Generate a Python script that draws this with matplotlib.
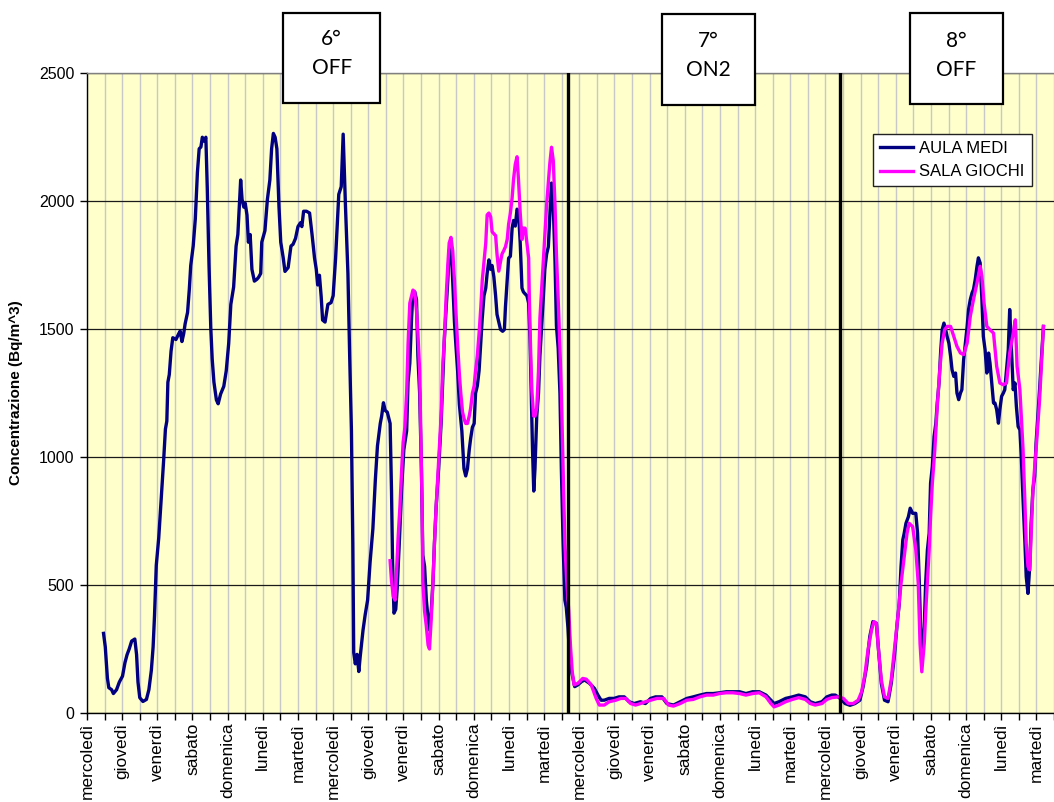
import matplotlib
matplotlib.use('Agg')
import matplotlib.pyplot as plt
from matplotlib.patches import Rectangle
import numpy as np

# ---------------- data ----------------
day_labels = ['mercoledì', 'giovedì', 'venerdì', 'sabato', 'domenica', 'lunedì', 'martedì'] * 4

aula_day = [0.47, 0.52, 0.58, 0.62, 0.70, 0.75, 0.84, 0.92, 1.01, 1.08, 1.14, 1.20, 1.27, 1.36, 1.41,
            1.45, 1.50, 1.59, 1.69, 1.76, 1.83, 1.88, 1.92, 1.97, 2.04, 2.11, 2.18, 2.23, 2.27, 2.30,
            2.34, 2.39, 2.44, 2.53, 2.61, 2.65, 2.70, 2.75, 2.79, 2.86, 2.91, 2.95, 3.02, 3.08, 3.14,
            3.19, 3.24, 3.28, 3.33, 3.38, 3.42, 3.47, 3.52, 3.56, 3.61, 3.68, 3.73, 3.80, 3.89, 3.96,
            4.03, 4.09, 4.17, 4.24, 4.29, 4.33, 4.37, 4.41, 4.46, 4.50, 4.55, 4.59, 4.64, 4.69, 4.76,
            4.83, 4.88, 4.94, 4.97, 5.06, 5.13, 5.20, 5.25, 5.30, 5.35, 5.40, 5.46, 5.51, 5.58, 5.63,
            5.72, 5.80, 5.86, 5.93, 6.00, 6.07, 6.11, 6.16, 6.24, 6.33, 6.40, 6.47, 6.52, 6.56, 6.61,
            6.66, 6.70, 6.77, 6.85, 6.94, 7.00, 7.07, 7.16, 7.23, 7.285, 7.35, 7.42, 7.47, 7.52, 7.56,
            7.585, 7.63, 7.68, 7.73, 7.77, 7.85, 7.91, 7.98, 8.05, 8.13, 8.20, 8.26, 8.34, 8.38, 8.43,
            8.48, 8.54, 8.62, 8.66, 8.69, 8.73, 8.78, 8.82, 8.88, 8.95, 9.01, 9.09, 9.13, 9.18, 9.23,
            9.27, 9.32, 9.37, 9.41, 9.46, 9.51, 9.55, 9.60, 9.65, 9.70, 9.74, 9.79, 9.84, 9.88, 9.93,
            10.00, 10.07, 10.12, 10.16, 10.21, 10.26, 10.30, 10.35, 10.40, 10.45, 10.49, 10.54, 10.59,
            10.66, 10.72, 10.77, 10.82, 10.87, 10.91, 10.96, 11.01, 11.05, 11.10, 11.15, 11.20, 11.24,
            11.29, 11.34, 11.38, 11.43, 11.48, 11.52, 11.57, 11.62, 11.66, 11.71, 11.76, 11.82, 11.87,
            11.90, 11.95, 11.99, 12.04, 12.09, 12.13, 12.18, 12.23, 12.27, 12.32, 12.37, 12.41, 12.46,
            12.51, 12.56, 12.60, 12.63, 12.67, 12.705, 12.74, 12.79, 12.84, 12.88, 12.93, 12.98, 13.02,
            13.07, 13.12, 13.16, 13.21, 13.26, 13.31, 13.35, 13.40, 13.45, 13.49, 13.54, 13.59, 13.63,
            13.68, 13.73, 13.79, 13.87, 13.96, 14.06, 14.15, 14.29, 14.43, 14.53, 14.62, 14.71, 14.85,
            14.99, 15.13, 15.28, 15.42, 15.56, 15.74, 15.88, 16.03, 16.17, 16.35, 16.49, 16.68, 16.87,
            17.06, 17.24, 17.43, 17.62, 17.81, 17.99, 18.18, 18.37, 18.56, 18.74, 18.93, 19.12, 19.31,
            19.45, 19.54, 19.68, 19.87, 20.06, 20.24, 20.43, 20.57, 20.71, 20.90, 21.04, 21.18, 21.28,
            21.42, 21.56, 21.70, 21.84, 21.98, 22.07, 22.17, 22.26, 22.35, 22.45, 22.51, 22.59, 22.68,
            22.78, 22.87, 22.96, 23.04, 23.10, 23.15, 23.20, 23.24, 23.29, 23.36, 23.41, 23.48, 23.57,
            23.62, 23.67, 23.71, 23.76, 23.81, 23.85, 23.90, 23.95, 23.99, 24.04, 24.09, 24.14, 24.18,
            24.23, 24.28, 24.32, 24.37, 24.42, 24.46, 24.51, 24.56, 24.60, 24.65, 24.70, 24.74, 24.79,
            24.84, 24.88, 24.93, 24.98, 25.03, 25.07, 25.12, 25.17, 25.21, 25.26, 25.31, 25.35, 25.40,
            25.45, 25.49, 25.54, 25.59, 25.64, 25.68, 25.73, 25.78, 25.82, 25.87, 25.92, 25.96, 26.01,
            26.06, 26.10, 26.15, 26.20, 26.24, 26.29, 26.34, 26.39, 26.43, 26.48, 26.53, 26.57, 26.62,
            26.67, 26.71, 26.76, 26.81, 26.85, 26.90, 26.95, 26.99, 27.04, 27.09, 27.14, 27.20]
aula_val = [311, 258, 136, 99, 91, 76, 91, 121, 144, 197, 228, 250, 281, 289, 228,
            121, 60, 45, 53, 91, 167, 258, 380, 577, 684, 836, 988, 1109, 1140, 1292,
            1322, 1413, 1466, 1459, 1482, 1492, 1451, 1482, 1520, 1565, 1656, 1748, 1824, 1930, 2112,
            2204, 2211, 2249, 2234, 2249, 2052, 1748, 1505, 1383, 1292, 1223, 1208, 1246, 1276, 1337,
            1444, 1596, 1664, 1824, 1869, 1976, 2082, 2006, 1976, 1991, 1945, 1839, 1869, 1733, 1687,
            1694, 1702, 1717, 1839, 1884, 2006, 2082, 2204, 2264, 2249, 2204, 1976, 1839, 1778, 1725,
            1740, 1824, 1831, 1854, 1900, 1915, 1900, 1960, 1960, 1953, 1869, 1778, 1733, 1672, 1710,
            1626, 1535, 1527, 1596, 1603, 1630, 1777, 2026, 2056, 2261, 1982, 1718, 1395, 1102, 661,
            236, 192, 229, 162, 221, 324, 383, 441, 588, 720, 911, 1043, 1131, 1160, 1212,
            1182, 1175, 1131, 867, 588, 390, 405, 485, 661, 882, 1028, 1102, 1293, 1366, 1542,
            1645, 1645, 1615, 1395, 1249, 955, 617, 573, 441, 368, 324, 397, 515, 661, 808,
            955, 1131, 1307, 1454, 1571, 1689, 1806, 1836, 1689, 1527, 1439, 1337, 1205,
            1102, 955, 926, 955, 1028, 1072, 1116, 1131, 1249, 1278, 1337, 1454, 1542,
            1630, 1660, 1718, 1770, 1733, 1748, 1704, 1630, 1557, 1527, 1498, 1491, 1498,
            1586, 1689, 1777, 1784, 1894, 1924, 1902, 1968, 1960, 1836, 1660, 1645, 1637,
            1630, 1601, 1454, 1278, 1028, 867, 955, 1160, 1249, 1395, 1513, 1630, 1733,
            1792, 1821, 1938, 2070, 1982, 1762, 1513, 1425, 1249, 955, 661, 441, 412,
            330, 207, 155, 103, 110, 122, 129, 116, 96, 70, 50, 50, 57,
            57, 63, 63, 44, 37, 44, 37, 57, 63, 63, 37, 31, 44,
            57, 63, 70, 76, 76, 79, 83, 83, 83, 76, 83, 83, 70,
            50, 37, 44, 57, 63, 70, 63, 44, 37, 44, 63, 70, 70,
            57, 37, 30, 37, 50, 102, 181, 298, 357, 350, 246, 115, 50,
            44, 115, 220, 350, 428, 572, 676, 702, 741, 767, 800, 780, 780,
            702, 506, 311, 246, 337, 506, 637, 702, 898, 963, 1080, 1132, 1211,
            1289, 1419, 1497, 1523, 1497, 1471, 1445, 1393, 1341, 1315, 1328, 1250, 1224,
            1250, 1263, 1380, 1445, 1510, 1576, 1615, 1641, 1654, 1693, 1745, 1778, 1758,
            1615, 1471, 1419, 1328, 1406, 1367, 1289, 1211, 1211, 1185, 1132, 1185, 1237,
            1250, 1263, 1341, 1419, 1576, 1419, 1263, 1289, 1198, 1119, 1106, 1002, 833,
            676, 533, 467, 572, 741, 872, 924, 1054, 1158, 1263, 1380, 1510]

sala_day = [8.62, 8.66, 8.71, 8.76, 8.80, 8.85, 8.90, 8.95, 8.99, 9.04, 9.09, 9.13, 9.18, 9.23, 9.27,
            9.32, 9.37, 9.41, 9.46, 9.49, 9.53, 9.55, 9.60, 9.65, 9.70, 9.74, 9.79, 9.84, 9.88, 9.93,
            10.00, 10.07, 10.12, 10.16, 10.21, 10.26, 10.30, 10.35, 10.40, 10.45, 10.49, 10.54, 10.59,
            10.63, 10.68, 10.73, 10.77, 10.82, 10.87, 10.91, 10.96, 11.01, 11.05, 11.10, 11.15, 11.20,
            11.24, 11.29, 11.34, 11.38, 11.43, 11.48, 11.52, 11.57, 11.62, 11.66, 11.71, 11.76, 11.80,
            11.85, 11.90, 11.95, 11.99, 12.04, 12.09, 12.13, 12.18, 12.23, 12.27, 12.32, 12.37, 12.41,
            12.46, 12.51, 12.56, 12.58, 12.62, 12.65, 12.70, 12.74, 12.79, 12.84, 12.88, 12.93, 12.98,
            13.02, 13.07, 13.12, 13.16, 13.21, 13.26, 13.31, 13.35, 13.40, 13.45, 13.49, 13.54, 13.59,
            13.64, 13.70, 13.75, 13.80, 13.85, 13.96, 14.10, 14.20, 14.34, 14.48, 14.57, 14.71, 14.85,
            15.04, 15.18, 15.32, 15.46, 15.60, 15.74, 15.88, 16.03, 16.21, 16.40, 16.54, 16.68, 16.87,
            17.06, 17.24, 17.43, 17.62, 17.81, 17.99, 18.18, 18.37, 18.56, 18.74, 18.93, 19.12, 19.31,
            19.45, 19.54, 19.68, 19.87, 20.06, 20.24, 20.43, 20.57, 20.71, 20.90, 21.04, 21.18, 21.37,
            21.51, 21.65, 21.79, 21.93, 22.03, 22.12, 22.21, 22.31, 22.38, 22.45, 22.51, 22.59, 22.68,
            22.78, 22.87, 22.96, 23.06, 23.15, 23.24, 23.32, 23.38, 23.48, 23.57, 23.64, 23.69, 23.74,
            23.81, 23.87, 23.95, 23.99, 24.04, 24.11, 24.18, 24.26, 24.32, 24.39, 24.46, 24.56, 24.65,
            24.74, 24.84, 24.93, 25.03, 25.12, 25.21, 25.31, 25.40, 25.45, 25.51, 25.59, 25.68, 25.78,
            25.87, 25.96, 26.06, 26.15, 26.24, 26.34, 26.40, 26.45, 26.53, 26.57, 26.62, 26.67, 26.71,
            26.76, 26.81, 26.85, 26.90, 26.99, 27.09, 27.20]
sala_val = [595, 515, 456, 441, 544, 691, 808, 955, 1058, 1116, 1249, 1439, 1601, 1630, 1652,
            1645, 1571, 1483, 1337, 1102, 808, 515, 397, 339, 265, 250, 368, 515, 661, 808,
            985, 1160, 1366, 1454, 1615, 1748, 1836, 1858, 1806, 1689, 1571, 1439, 1322,
            1249, 1175, 1146, 1131, 1131, 1160, 1190, 1249, 1278, 1337, 1395, 1483, 1586,
            1689, 1762, 1836, 1946, 1953, 1938, 1880, 1872, 1865, 1792, 1726, 1762, 1792,
            1806, 1821, 1850, 1909, 1953, 2012, 2085, 2144, 2173, 2085, 1953, 1850, 1894,
            1894, 1836, 1777, 1615, 1395, 1263, 1160, 1160, 1190, 1337, 1542, 1660, 1777,
            1865, 1982, 2070, 2144, 2210, 2158, 1982, 1792, 1615, 1425, 1249, 955, 661,
            520, 400, 260, 160, 110, 116, 135, 132, 110, 57, 31, 31, 44,
            50, 57, 57, 37, 31, 37, 44, 50, 57, 57, 31, 27, 37,
            50, 53, 63, 70, 70, 76, 79, 79, 76, 70, 76, 79, 63,
            37, 24, 31, 44, 53, 60, 53, 37, 31, 37, 53, 60, 63,
            57, 37, 37, 50, 83, 148, 246, 324, 357, 350, 246, 128, 63,
            57, 128, 246, 376, 506, 611, 702, 741, 728, 637, 506, 272, 161,
            272, 441, 637, 767, 898, 1028, 1198, 1354, 1445, 1497, 1510, 1510, 1471,
            1432, 1406, 1400, 1445, 1550, 1615, 1680, 1745, 1706, 1602, 1510, 1497, 1484,
            1354, 1289, 1282, 1289, 1406, 1484, 1536, 1354, 1263, 1158, 1028, 833, 663,
            572, 559, 702, 872, 1028, 1224, 1510]

phase_changes = [13.68, 21.415]
phase_texts = [('6°', 'OFF'), ('7°', 'ON2'), ('8°', 'OFF')]
y_ticks = [0, 500, 1000, 1500, 2000, 2500]

# ---------------- figure ----------------
W, H = 1054, 802
fig = plt.figure(figsize=(W / 100, H / 100), dpi=100)
fig.patch.set_facecolor('white')

L, R, T, B = 87, 1054, 73, 713
ax = fig.add_axes([L / W, 1 - B / H, (R - L) / W, (B - T) / H])
ax.set_facecolor('#FFFFCC')
ax.set_xlim(0, 27.2)
ax.set_ylim(0, 2500)

font = 'Liberation Sans'

ax.set_xticks(np.arange(len(day_labels)))
ax.set_xticklabels(day_labels, rotation=90, fontsize=12.5, family=font)
ax.set_xticks(np.arange(len(day_labels)) + 0.5, minor=True)
ax.set_yticks(y_ticks)
ax.set_yticklabels([str(v) for v in y_ticks], fontsize=11.5, family=font)
ax.tick_params(axis='x', which='both', direction='out', length=5, width=1, pad=2, colors='black')
ax.tick_params(axis='y', which='both', direction='out', length=5, width=1, pad=4, colors='black')

ax.set_axisbelow(True)
ax.xaxis.grid(True, which='both', color='#C8C8C8', lw=1.0)
ax.yaxis.grid(True, which='major', color='#1a1a1a', lw=0.9)

for s in ['left', 'bottom']:
    ax.spines[s].set_color('black')
    ax.spines[s].set_linewidth(1.0)
ax.spines['top'].set_color('#808080')
ax.spines['top'].set_linewidth(1.0)
ax.spines['right'].set_visible(False)

ax.set_ylabel('Concentrazione (Bq/m^3)', fontsize=11, fontweight='bold', family=font)
ax.yaxis.set_label_coords(-0.066, 0.5)

l1, = ax.plot(aula_day, aula_val, color='#000080', lw=2.4, zorder=3, solid_joinstyle='round')
l2, = ax.plot(sala_day, sala_val, color='#FF00FF', lw=2.4, zorder=4, solid_joinstyle='round')

for pc in phase_changes:
    ax.axvline(pc, color='black', lw=2.4, zorder=6)

leg = fig.legend([l1, l2], ['AULA MEDI', 'SALA GIOCHI'], loc='upper left',
                 bbox_to_anchor=(873 / W, 1 - 134 / H), frameon=True, fancybox=False,
                 edgecolor='#222222', framealpha=1, prop={'family': font, 'size': 12},
                 handlelength=2.0, handletextpad=0.35, labelspacing=0.5, borderpad=0.42,
                 borderaxespad=0)
leg.get_frame().set_linewidth(1.0)
leg.set_zorder(20)

# phase boxes
boxes = [(283.3, 12.7, 380.0, 102.7, 331.7, 39, 68),
         (661.7, 14.3, 755.0, 105.0, 708.3, 41, 70),
         (910.0, 12.5, 1003.0, 104.0, 956.5, 41, 70)]
for (x0, y0, x1, y1, cx, ty1, ty2), (t1, t2) in zip(boxes, phase_texts):
    rect = Rectangle((x0 / W, 1 - y1 / H), (x1 - x0) / W, (y1 - y0) / H,
                     transform=fig.transFigure, facecolor='white', edgecolor='black',
                     lw=1.6, zorder=30)
    fig.add_artist(rect)
    fig.text(cx / W, 1 - ty1 / H, t1, ha='center', va='center', fontsize=15,
             family='Lato', zorder=31)
    fig.text(cx / W, 1 - ty2 / H, t2, ha='center', va='center', fontsize=15,
             family='Lato', zorder=31)

fig.savefig('out.png', dpi=100)
